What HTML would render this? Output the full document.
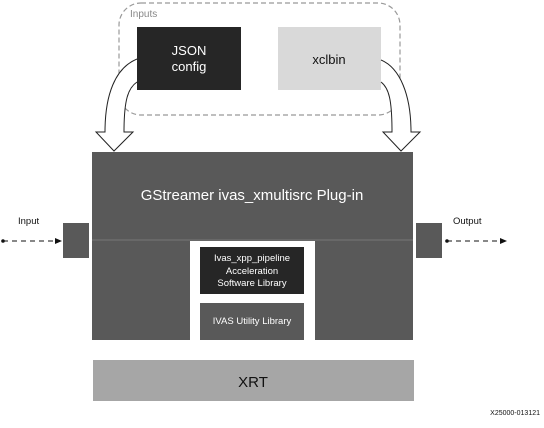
<!DOCTYPE html>
<html><head><style>
body{margin:0;width:544px;height:423px;background:#fff;overflow:hidden;font-family:"Liberation Sans",sans-serif;}
</style></head><body>
<svg width="544" height="423" xmlns="http://www.w3.org/2000/svg" font-family="Liberation Sans, sans-serif">
<rect x="119" y="3" width="281" height="112" rx="22" fill="none" stroke="#999" stroke-dasharray="5,3" stroke-width="1.2"/>
<text x="130" y="17" font-size="10" fill="#888">Inputs</text>
<rect x="137" y="27" width="104" height="63" fill="#262626"/>
<text x="189" y="55" font-size="13" fill="#fff" text-anchor="middle">JSON</text>
<text x="189" y="71" font-size="13" fill="#fff" text-anchor="middle">config</text>
<rect x="278" y="27" width="103" height="63" fill="#d9d9d9"/>
<text x="329" y="64" font-size="13" fill="#111" text-anchor="middle">xclbin</text>
<path d="M137,59 C115,68 105,95 105,132 L96,132 L114,151 L133,132 L124,132 C124,100 128,88 137,82" fill="#fff" stroke="#222" stroke-width="1"/>
<path d="M381,60 C400,68 411,95 411,132 L420,132 L401,151 L383,132 L392,132 C392,100 389,88 381,82" fill="#fff" stroke="#222" stroke-width="1"/>
<rect x="92" y="152" width="321" height="188" fill="#595959"/>
<line x1="92" y1="240" x2="413" y2="240" stroke="#777" stroke-width="1"/>
<rect x="190" y="241" width="125" height="99" fill="#fff"/>
<text x="252" y="200" font-size="15" fill="#fff" text-anchor="middle">GStreamer ivas_xmultisrc Plug-in</text>
<rect x="200" y="247" width="104" height="47" fill="#262626"/>
<text x="252" y="261" font-size="9.5" fill="#fff" text-anchor="middle">Ivas_xpp_pipeline</text>
<text x="252" y="274" font-size="9.5" fill="#fff" text-anchor="middle">Acceleration</text>
<text x="252" y="286" font-size="9.5" fill="#fff" text-anchor="middle">Software Library</text>
<rect x="200" y="303" width="104" height="37" fill="#595959"/>
<text x="252" y="324" font-size="9.5" fill="#fff" text-anchor="middle">IVAS Utility Library</text>
<rect x="63" y="223" width="26" height="35" fill="#595959"/>
<rect x="416" y="223" width="26" height="35" fill="#595959"/>
<text x="18" y="224" font-size="9.5" fill="#111">Input</text>
<text x="453" y="224" font-size="9.5" fill="#111">Output</text>
<circle cx="3" cy="241" r="1.8" fill="#111"/>
<line x1="3" y1="241" x2="56" y2="241" stroke="#111" stroke-dasharray="5,4"/>
<path d="M55,238 L62,241 L55,244Z" fill="#111"/>
<circle cx="447" cy="241" r="1.8" fill="#111"/>
<line x1="447" y1="241" x2="500" y2="241" stroke="#111" stroke-dasharray="5,4"/>
<path d="M500,238 L507,241 L500,244Z" fill="#111"/>
<rect x="93" y="360" width="321" height="41" fill="#a6a6a6"/>
<text x="253" y="387" font-size="15" fill="#111" text-anchor="middle">XRT</text>
<text x="540" y="415" font-size="7" fill="#111" text-anchor="end">X25000-013121</text>
</svg>
</body></html>
